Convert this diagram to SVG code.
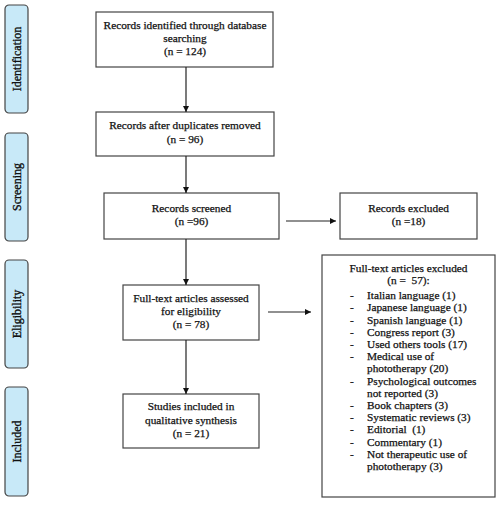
<svg xmlns="http://www.w3.org/2000/svg" width="500" height="507" viewBox="0 0 500 507">
<defs>
<style>
.box{fill:#fff;stroke:#444;stroke-width:1.2}
.side{fill:#c8e9f8;stroke:#444;stroke-width:1.2}
text{font-family:"Liberation Serif","Times New Roman",serif;font-size:11.3px;fill:#111;stroke:#111;stroke-width:0.25}
.c{text-anchor:middle}
.s{font-size:12px;text-anchor:middle;stroke-width:0.35}
.con{stroke:#222;stroke-width:1.2;fill:none;marker-end:url(#ah)}
</style>
<marker id="ah" viewBox="0 0 10 10" refX="10" refY="5" markerWidth="6" markerHeight="6" markerUnits="userSpaceOnUse" orient="auto">
<path d="M0,0 L10,5 L0,10 z" fill="#111"/>
</marker>
</defs>
<rect width="500" height="507" fill="#fff"/>

<g id="side-identification"><rect class="side" x="5" y="5" width="23" height="108" rx="4"/><text class="s" transform="translate(20.5,59) rotate(-90)">Identification</text></g>
<g id="side-screening"><rect class="side" x="5" y="133" width="23" height="108" rx="4"/><text class="s" transform="translate(20.5,187) rotate(-90)">Screening</text></g>
<g id="side-eligibility"><rect class="side" x="5" y="260" width="23" height="108" rx="4"/><text class="s" transform="translate(20.5,314) rotate(-90)">Eligibility</text></g>
<g id="side-included"><rect class="side" x="5" y="387" width="23" height="109" rx="4"/><text class="s" transform="translate(20.5,441.5) rotate(-90)">Included</text></g>

<g id="identified"><rect class="box" x="96" y="12" width="177" height="55"/>
<text class="c" x="185" y="29">Records identified through database</text>
<text class="c" x="185" y="42">searching</text>
<text class="c" x="185" y="55">(n = 124)</text></g>

<g id="duplicates"><rect class="box" x="96" y="112" width="178" height="44"/>
<text class="c" x="185" y="129">Records after duplicates removed</text>
<text class="c" x="185" y="143">(n = 96)</text></g>

<g id="screened"><rect class="box" x="104" y="193" width="175" height="46"/>
<text class="c" x="191.5" y="212">Records screened</text>
<text class="c" x="191.5" y="225">(n =96)</text></g>

<g id="excluded"><rect class="box" x="340" y="193" width="137" height="46"/>
<text class="c" x="408.5" y="212">Records excluded</text>
<text class="c" x="408.5" y="225">(n =18)</text></g>

<g id="assessed"><rect class="box" x="123" y="285" width="136" height="55"/>
<text class="c" x="191" y="302">Full-text articles assessed</text>
<text class="c" x="191" y="315">for eligibility</text>
<text class="c" x="191" y="328">(n = 78)</text></g>

<g id="included"><rect class="box" x="123" y="394" width="136" height="54"/>
<text class="c" x="191" y="410">Studies included in</text>
<text class="c" x="191" y="424">qualitative synthesis</text>
<text class="c" x="191" y="437">(n = 21)</text></g>

<g id="fulltext-excluded"><rect class="box" x="322" y="255" width="173" height="242"/>
<text class="c" x="408.5" y="272">Full-text articles excluded</text>
<text class="c" x="408.5" y="284" xml:space="preserve">(n =  57):</text>
<g>
<text x="350" y="299">-</text><text x="367" y="299">Italian language (1)</text>
<text x="350" y="311">-</text><text x="367" y="311">Japanese language (1)</text>
<text x="350" y="323.5">-</text><text x="367" y="323.5">Spanish language (1)</text>
<text x="350" y="335.5">-</text><text x="367" y="335.5">Congress report (3)</text>
<text x="350" y="348">-</text><text x="367" y="348">Used others tools (17)</text>
<text x="350" y="360">-</text><text x="367" y="360">Medical use of</text>
<text x="367" y="372">phototherapy (20)</text>
<text x="350" y="384.5">-</text><text x="367" y="384.5">Psychological outcomes</text>
<text x="367" y="396.5">not reported (3)</text>
<text x="350" y="409">-</text><text x="367" y="409">Book chapters (3)</text>
<text x="350" y="421">-</text><text x="367" y="421">Systematic reviews (3)</text>
<text x="350" y="433">-</text><text x="367" y="433" xml:space="preserve">Editorial  (1)</text>
<text x="350" y="445.5">-</text><text x="367" y="445.5">Commentary (1)</text>
<text x="350" y="457.5">-</text><text x="367" y="457.5">Not therapeutic use of</text>
<text x="367" y="470">phototherapy (3)</text>
</g></g>

<g id="connectors">
<line class="con" x1="186" y1="67" x2="186" y2="112"/>
<line class="con" x1="186" y1="156" x2="186" y2="193"/>
<line class="con" x1="286" y1="221" x2="336" y2="221"/>
<line class="con" x1="186" y1="239" x2="186" y2="285"/>
<line class="con" x1="268" y1="312" x2="311" y2="312"/>
<line class="con" x1="186" y1="340" x2="186" y2="394"/>
</g>
</svg>
